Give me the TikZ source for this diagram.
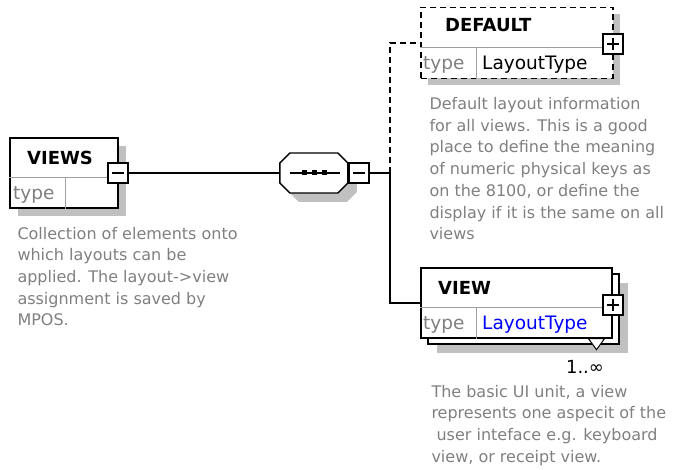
\documentclass[tikz,border=0pt]{standalone}
\usepackage{fontspec}
\setmainfont{DejaVu Sans}
\usepackage{xcolor}
\usetikzlibrary{positioning,shadows,calc}

\definecolor{descgray}{RGB}{128,128,128}
\definecolor{shadowgray}{RGB}{192,192,192}
\definecolor{rulegray}{RGB}{160,160,160}

\begin{document}
\begin{tikzpicture}[
  x=1pt, y=-1pt,
  elem/.style={draw, line width=1.4pt, fill=white, inner sep=0pt},
  shade/.style={drop shadow={shadow xshift=#1, shadow yshift=-#1, fill=shadowgray, opacity=1}},
  toggle/.style={draw, line width=1.3pt, fill=white, minimum size=20pt, inner sep=0pt},
  minusbox/.style={toggle, path picture={
    \draw[line width=1.2pt] ([xshift=4pt]path picture bounding box.west) -- ([xshift=-4pt]path picture bounding box.east);}},
  plusbox/.style={toggle, path picture={
    \draw[line width=1.2pt] ([xshift=4pt]path picture bounding box.west) -- ([xshift=-4pt]path picture bounding box.east);
    \draw[line width=1.2pt] ([yshift=-4pt]path picture bounding box.north) -- ([yshift=4pt]path picture bounding box.south);}},
  title/.style={font=\fontsize{18}{20}\selectfont\bfseries, anchor=base west, inner sep=0pt},
  field/.style={font=\fontsize{18.5}{20}\selectfont, anchor=base west, inner sep=0pt},
  desc/.style={font=\fontsize{16}{21.7}\selectfont, text=descgray, align=left, inner sep=0pt},
  divider/.style={draw=rulegray, line width=1pt},
  link/.style={line width=1.4pt}
]
  \useasboundingbox (0,0) rectangle (673,470);

  % VIEWS
  \node[elem, shade=8pt, minimum width=108pt, minimum height=70pt] (views) at (64,173) {};
  \draw[divider] ($(views.north west)+(0,40)$) -- ($(views.north east)+(0,40)$);
  \draw[divider] (65,178) -- (views.south -| 65,0);
  \node[title] (views_t) at (27,165) {VIEWS};
  \node[field, text=descgray] (views_ty) at (13,200) {type};
  \node[minusbox] (views_m) at (118,173) {};
  \node[desc, below right=18pt and 8pt of views.south west] (views_d) {%
    Collection of elements onto\\
    which layouts can be\\
    applied. The layout->view\\
    assignment is saved by\\
    MPOS.};

  % sequence
  \node[minimum width=68pt, minimum height=40pt, inner sep=0pt] (seq) at (314,173) {};
  \fill[shadowgray] ([shift={(9pt,-9pt)}]seq.west) ++(0,-10) -- ++(10,-10) -- ++(48,0) -- ++(10,10)
    -- ++(0,20) -- ++(-10,10) -- ++(-48,0) -- ++(-10,-10) -- cycle;
  \draw[elem] (seq.west) ++(0,-10) -- ++(10,-10) -- ++(48,0) -- ++(10,10)
    -- ++(0,20) -- ++(-10,10) -- ++(-48,0) -- ++(-10,-10) -- cycle;
  \draw[link] ([xshift=10pt]seq.west) -- ([xshift=-8pt]seq.east);
  \foreach \dx in {-10,0,10}
    \fill ([xshift=\dx pt]seq.center) +(-2.5,-2.5) rectangle +(2.5,2.5);
  \node[minusbox] (seq_m) at (359,173) {};
  \coordinate (fork) at (390,173);

  % DEFAULT
  \node[elem, dash pattern=on 6pt off 4pt, shade=7pt, minimum width=192pt, minimum height=71pt] (default) at (517,43) {};
  \draw[divider] ($(default.north west)+(0,41)$) -- ($(default.north east)+(0,41)$);
  \draw[divider] (476,48) -- (default.south -| 476,0);
  \node[title] (default_t) at (445,32) {DEFAULT};
  \node[field, text=descgray] (default_ty) at (423,70) {type};
  \node[field] (default_lt) at (482,70) {LayoutType};
  \node[plusbox] (default_p) at (613,44) {};
  \node[desc, below right=18pt and 9pt of default.south west] (default_d) {%
    Default layout information\\
    for all views. This is a good\\
    place to define the meaning\\
    of numeric physical keys as\\
    on the 8100, or define the\\
    display if it is the same on all\\
    views};

  % VIEW
  \node[elem, shade=9pt, minimum width=191pt, minimum height=70pt] (view_bk) at (523.5,309) {};
  \node[elem, minimum width=191pt, minimum height=70pt] (view) at (516.5,303) {};
  \draw[divider] ($(view.north west)+(0,40)$) -- ($(view.north east)+(0,40)$);
  \draw[divider] (476,308) -- (view.south -| 476,0);
  \node[title] (view_t) at (438,295) {VIEW};
  \node[field, text=descgray] (view_ty) at (423,330) {type};
  \node[field, text=blue] (view_lt) at (482,330) {LayoutType};
  \node[plusbox] (view_p) at (613,305) {};
  \draw[line width=1pt, fill=white] ([xshift=72pt]view.south) -- ([xshift=80pt, yshift=-11pt]view.south) -- ([xshift=88pt]view.south) -- cycle;
  \node[font=\fontsize{18}{20}\selectfont, inner sep=0pt] (view_n) at (585,367) {1..∞};
  \node[desc, below right=46pt and 11pt of view.south west] (view_d) {%
    The basic UI unit, a view\\
    represents one aspecit of the\\
    \ user inteface e.g. keyboard\\
    view, or receipt view.};

  % connectors
  \draw[link] (views_m) -- (seq);
  \draw[link] (seq_m) -- (fork);
  \draw[link, dash pattern=on 6pt off 4pt] (fork) |- (default.west);
  \draw[link] (fork) |- (view.west);
\end{tikzpicture}
\end{document}
